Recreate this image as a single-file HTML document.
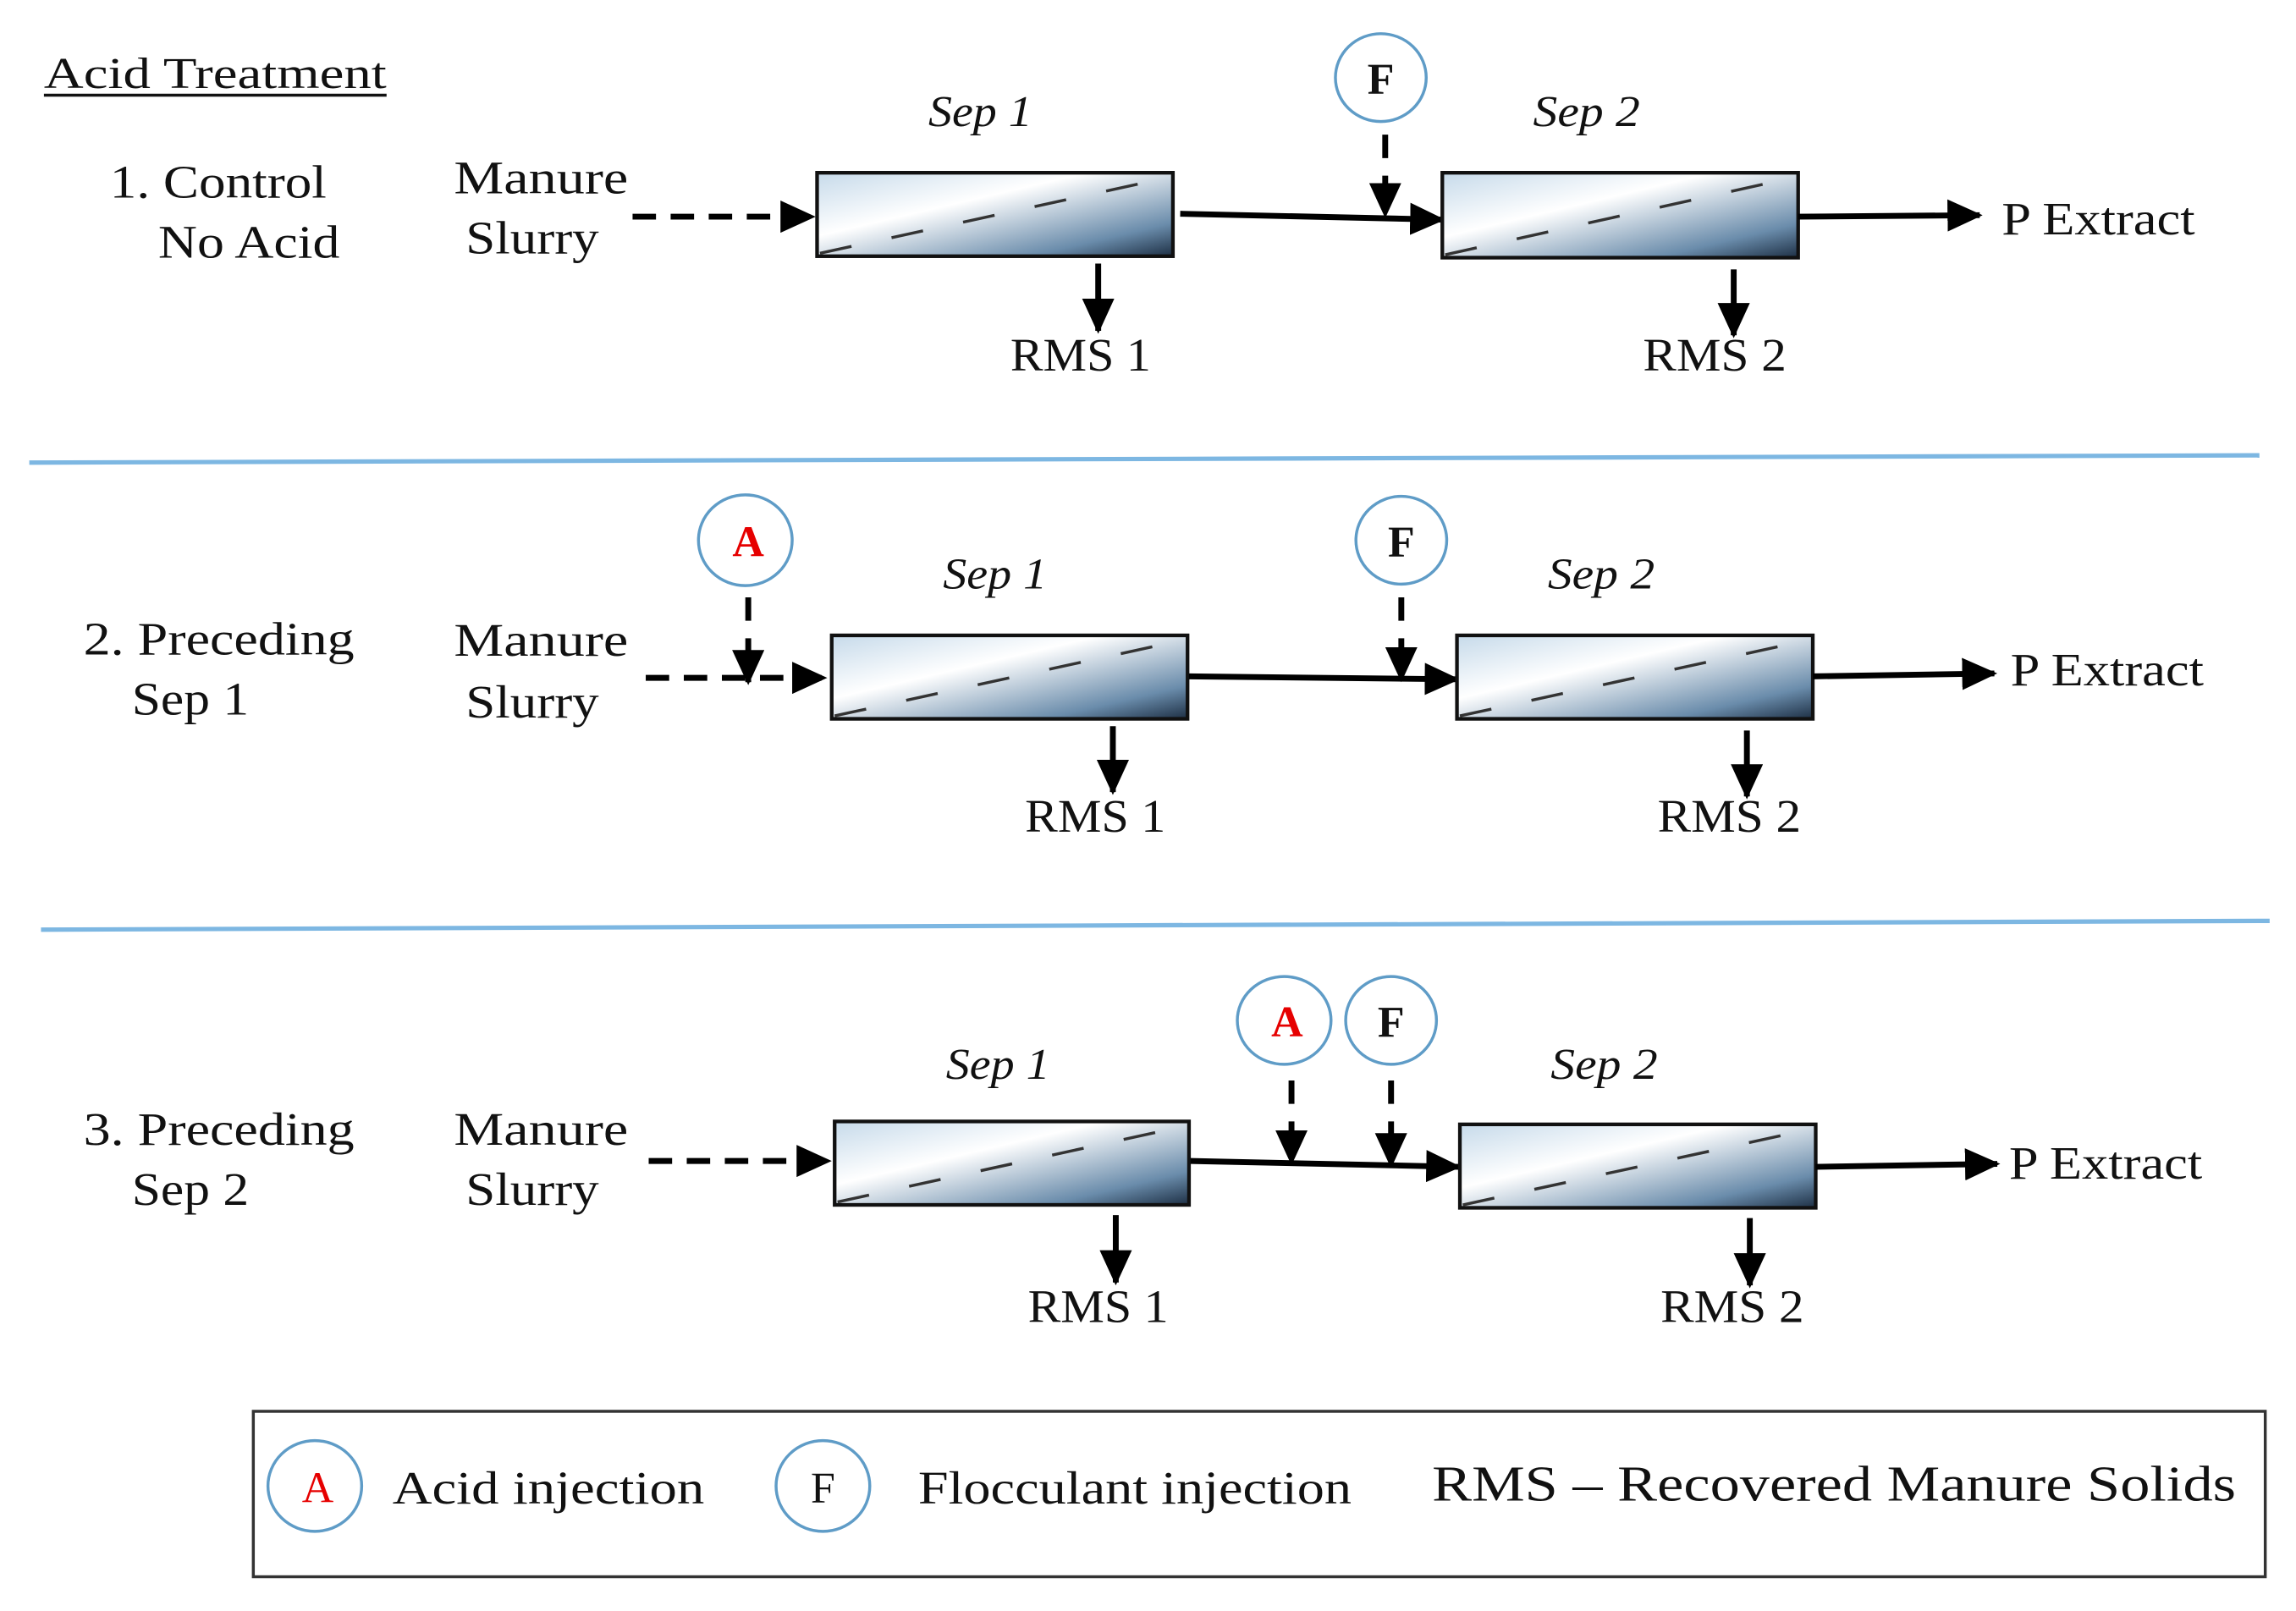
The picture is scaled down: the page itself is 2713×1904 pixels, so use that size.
<!DOCTYPE html>
<html><head><meta charset="utf-8"><style>
html,body{margin:0;padding:0;background:#fff;}
svg{display:block;}
text{font-family:"Liberation Serif",serif;fill:#111;}
</style></head><body>
<svg width="2713" height="1904" viewBox="0 0 1568 1100.4" preserveAspectRatio="none" xmlns="http://www.w3.org/2000/svg">
<defs>
<linearGradient id="g" x1="0" y1="0" x2="1" y2="1">
<stop offset="0" stop-color="#c6daea"/>
<stop offset="0.38" stop-color="#ffffff"/>
<stop offset="0.8" stop-color="#6a8cab"/>
<stop offset="1" stop-color="#1d2f44"/>
</linearGradient>
<marker id="ah" markerWidth="24" markerHeight="22" refX="22" refY="11" orient="auto" markerUnits="userSpaceOnUse">
<path d="M0,0 L24,11 L0,22 z" fill="#000"/>
</marker>
</defs>
<g font-size="32" lengthAdjust="spacingAndGlyphs">
<text x="30" y="60" font-size="30" textLength="234" lengthAdjust="spacingAndGlyphs">Acid Treatment</text>
<line x1="30" y1="65" x2="264" y2="65" stroke="#111" stroke-width="2"/>

<!-- Row 1 -->
<text x="75" y="135" textLength="148" lengthAdjust="spacingAndGlyphs">1. Control</text><text x="108" y="176" textLength="124" lengthAdjust="spacingAndGlyphs">No Acid</text>
<text x="310" y="132" textLength="119" lengthAdjust="spacingAndGlyphs">Manure</text><text x="318" y="173" textLength="91" lengthAdjust="spacingAndGlyphs">Slurry</text>
<line x1="432" y1="148" x2="555" y2="148" stroke="#000" stroke-width="4" stroke-dasharray="16,10" marker-end="url(#ah)"/>
<rect x="558" y="118" width="243" height="57" fill="url(#g)" stroke="#111" stroke-width="2.5"/>
<line x1="560" y1="173" x2="799" y2="121" stroke="#333" stroke-width="2" stroke-dasharray="22,28"/>
<text x="634" y="86" font-style="italic" font-size="30" textLength="71" lengthAdjust="spacingAndGlyphs">Sep 1</text>
<line x1="806" y1="146" x2="985" y2="150" stroke="#000" stroke-width="4" marker-end="url(#ah)"/>
<ellipse cx="943" cy="53" rx="31" ry="30" fill="#fff" stroke="#5f9cc7" stroke-width="2"/>
<text x="943" y="64" text-anchor="middle" font-weight="bold" font-size="30">F</text>
<line x1="946" y1="92" x2="946" y2="147" stroke="#000" stroke-width="4" stroke-dasharray="16,12" marker-end="url(#ah)"/>
<rect x="985" y="118" width="243" height="58" fill="url(#g)" stroke="#111" stroke-width="2.5"/>
<line x1="987" y1="174" x2="1226" y2="121" stroke="#333" stroke-width="2" stroke-dasharray="22,28"/>
<text x="1047" y="86" font-style="italic" font-size="30" textLength="73" lengthAdjust="spacingAndGlyphs">Sep 2</text>
<line x1="1228" y1="148" x2="1352" y2="147" stroke="#000" stroke-width="4" marker-end="url(#ah)"/>
<text x="1367" y="160" textLength="132" lengthAdjust="spacingAndGlyphs">P Extract</text>
<line x1="750" y1="180" x2="750" y2="226" stroke="#000" stroke-width="4" marker-end="url(#ah)"/>
<text x="690" y="253" textLength="96" lengthAdjust="spacingAndGlyphs">RMS 1</text>
<line x1="1184" y1="184" x2="1184" y2="229" stroke="#000" stroke-width="4" marker-end="url(#ah)"/>
<text x="1122" y="253" textLength="98" lengthAdjust="spacingAndGlyphs">RMS 2</text>

<line x1="20" y1="316" x2="1543" y2="311" stroke="#7db7e2" stroke-width="3"/>

<!-- Row 2 -->
<text x="57" y="447" textLength="185" lengthAdjust="spacingAndGlyphs">2. Preceding</text><text x="90" y="488" textLength="80" lengthAdjust="spacingAndGlyphs">Sep 1</text>
<text x="310" y="448" textLength="119" lengthAdjust="spacingAndGlyphs">Manure</text><text x="318" y="490" textLength="91" lengthAdjust="spacingAndGlyphs">Slurry</text>
<line x1="441" y1="463" x2="563" y2="463" stroke="#000" stroke-width="4" stroke-dasharray="16,10" marker-end="url(#ah)"/>
<ellipse cx="509" cy="369" rx="32" ry="31" fill="#fff" stroke="#5f9cc7" stroke-width="2"/>
<text x="511" y="380" text-anchor="middle" font-weight="bold" font-size="30" style="fill:#e60000">A</text>
<line x1="511" y1="408" x2="511" y2="466" stroke="#000" stroke-width="4" stroke-dasharray="16,12" marker-end="url(#ah)"/>
<rect x="568" y="434" width="243" height="57" fill="url(#g)" stroke="#111" stroke-width="2.5"/>
<line x1="570" y1="489" x2="809" y2="437" stroke="#333" stroke-width="2" stroke-dasharray="22,28"/>
<text x="644" y="402" font-style="italic" font-size="30" textLength="71" lengthAdjust="spacingAndGlyphs">Sep 1</text>
<line x1="812" y1="462" x2="995" y2="464" stroke="#000" stroke-width="4" marker-end="url(#ah)"/>
<ellipse cx="957" cy="369" rx="31" ry="30" fill="#fff" stroke="#5f9cc7" stroke-width="2"/>
<text x="957" y="380" text-anchor="middle" font-weight="bold" font-size="30">F</text>
<line x1="957" y1="408" x2="957" y2="464" stroke="#000" stroke-width="4" stroke-dasharray="16,12" marker-end="url(#ah)"/>
<rect x="995" y="434" width="243" height="57" fill="url(#g)" stroke="#111" stroke-width="2.5"/>
<line x1="997" y1="489" x2="1236" y2="437" stroke="#333" stroke-width="2" stroke-dasharray="22,28"/>
<text x="1057" y="402" font-style="italic" font-size="30" textLength="73" lengthAdjust="spacingAndGlyphs">Sep 2</text>
<line x1="1238" y1="462" x2="1362" y2="460" stroke="#000" stroke-width="4" marker-end="url(#ah)"/>
<text x="1373" y="468" textLength="132" lengthAdjust="spacingAndGlyphs">P Extract</text>
<line x1="760" y1="496" x2="760" y2="541" stroke="#000" stroke-width="4" marker-end="url(#ah)"/>
<text x="700" y="568" textLength="96" lengthAdjust="spacingAndGlyphs">RMS 1</text>
<line x1="1193" y1="499" x2="1193" y2="544" stroke="#000" stroke-width="4" marker-end="url(#ah)"/>
<text x="1132" y="568" textLength="98" lengthAdjust="spacingAndGlyphs">RMS 2</text>

<line x1="28" y1="635" x2="1550" y2="629" stroke="#7db7e2" stroke-width="3"/>

<!-- Row 3 -->
<text x="57" y="782" textLength="185" lengthAdjust="spacingAndGlyphs">3. Preceding</text><text x="90" y="823" textLength="80" lengthAdjust="spacingAndGlyphs">Sep 2</text>
<text x="310" y="782" textLength="119" lengthAdjust="spacingAndGlyphs">Manure</text><text x="318" y="823" textLength="91" lengthAdjust="spacingAndGlyphs">Slurry</text>
<line x1="443" y1="793" x2="566" y2="793" stroke="#000" stroke-width="4" stroke-dasharray="16,10" marker-end="url(#ah)"/>
<rect x="570" y="766" width="242" height="57" fill="url(#g)" stroke="#111" stroke-width="2.5"/>
<line x1="572" y1="821" x2="810" y2="769" stroke="#333" stroke-width="2" stroke-dasharray="22,28"/>
<text x="646" y="737" font-style="italic" font-size="30" textLength="71" lengthAdjust="spacingAndGlyphs">Sep 1</text>
<line x1="813" y1="793" x2="996" y2="797" stroke="#000" stroke-width="4" marker-end="url(#ah)"/>
<ellipse cx="877" cy="697" rx="32" ry="30" fill="#fff" stroke="#5f9cc7" stroke-width="2"/>
<text x="879" y="708" text-anchor="middle" font-weight="bold" font-size="30" style="fill:#e60000">A</text>
<ellipse cx="950" cy="697" rx="31" ry="30" fill="#fff" stroke="#5f9cc7" stroke-width="2"/>
<text x="950" y="708" text-anchor="middle" font-weight="bold" font-size="30">F</text>
<line x1="882" y1="738" x2="882" y2="794" stroke="#000" stroke-width="4" stroke-dasharray="16,12" marker-end="url(#ah)"/>
<line x1="950" y1="738" x2="950" y2="796" stroke="#000" stroke-width="4" stroke-dasharray="16,12" marker-end="url(#ah)"/>
<rect x="997" y="768" width="243" height="57" fill="url(#g)" stroke="#111" stroke-width="2.5"/>
<line x1="999" y1="823" x2="1238" y2="771" stroke="#333" stroke-width="2" stroke-dasharray="22,28"/>
<text x="1059" y="737" font-style="italic" font-size="30" textLength="73" lengthAdjust="spacingAndGlyphs">Sep 2</text>
<line x1="1240" y1="797" x2="1364" y2="795" stroke="#000" stroke-width="4" marker-end="url(#ah)"/>
<text x="1372" y="805" textLength="132" lengthAdjust="spacingAndGlyphs">P Extract</text>
<line x1="762" y1="830" x2="762" y2="876" stroke="#000" stroke-width="4" marker-end="url(#ah)"/>
<text x="702" y="903" textLength="96" lengthAdjust="spacingAndGlyphs">RMS 1</text>
<line x1="1195" y1="832" x2="1195" y2="878" stroke="#000" stroke-width="4" marker-end="url(#ah)"/>
<text x="1134" y="903" textLength="98" lengthAdjust="spacingAndGlyphs">RMS 2</text>

<!-- Legend -->
<rect x="173" y="964" width="1374" height="113" fill="#fff" stroke="#333" stroke-width="2"/>
<ellipse cx="215" cy="1015" rx="32" ry="31" fill="#fff" stroke="#5f9cc7" stroke-width="2"/>
<text x="217" y="1026" text-anchor="middle" font-size="30" style="fill:#e60000">A</text>
<text x="268" y="1027" textLength="213" lengthAdjust="spacingAndGlyphs">Acid injection</text>
<ellipse cx="562" cy="1015" rx="32" ry="31" fill="#fff" stroke="#5f9cc7" stroke-width="2"/>
<text x="562" y="1026" text-anchor="middle" font-size="30">F</text>
<text x="627" y="1027" textLength="296" lengthAdjust="spacingAndGlyphs">Flocculant injection</text>
<text x="978" y="1025" font-size="34" textLength="549" lengthAdjust="spacingAndGlyphs">RMS – Recovered Manure Solids</text>
</g>
</svg>
</body></html>
